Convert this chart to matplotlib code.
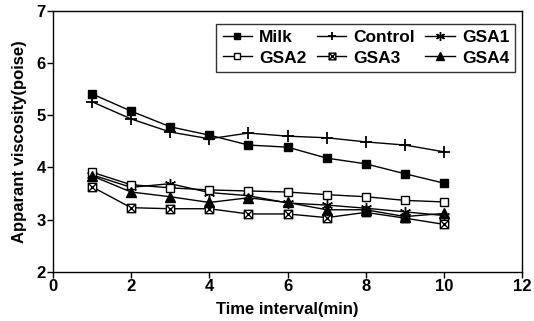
import numpy as np
import matplotlib.pyplot as plt
from matplotlib.path import Path

plt.rcParams['font.family'] = ['Liberation Sans', 'DejaVu Sans']

# --- data ---
time = [1, 2, 3, 4, 5, 6, 7, 8, 9, 10]
milk = [5.41, 5.08, 4.78, 4.62, 4.43, 4.39, 4.18, 4.07, 3.88, 3.70]
control = [5.26, 4.93, 4.68, 4.55, 4.66, 4.60, 4.57, 4.49, 4.43, 4.30]
gsa1 = [3.86, 3.62, 3.69, 3.52, 3.46, 3.32, 3.28, 3.22, 3.15, 3.08]
gsa2 = [3.91, 3.67, 3.61, 3.57, 3.55, 3.53, 3.48, 3.44, 3.37, 3.34]
gsa3 = [3.63, 3.23, 3.21, 3.21, 3.11, 3.11, 3.04, 3.14, 3.03, 2.91]
gsa4 = [3.84, 3.53, 3.44, 3.33, 3.42, 3.33, 3.19, 3.19, 3.06, 3.12]

# square with a cross inside (GSA3 marker)
sq_x = Path([(-1, -1), (1, -1), (1, 1), (-1, 1), (-1, -1),
             (-1, -1), (1, 1), (-1, 1), (1, -1)],
            [Path.MOVETO, Path.LINETO, Path.LINETO, Path.LINETO, Path.CLOSEPOLY,
             Path.MOVETO, Path.LINETO, Path.MOVETO, Path.LINETO])

fig = plt.figure(figsize=(5.34, 3.21), dpi=100)
ax = fig.add_axes([0.099, 0.153, 0.879, 0.813])

kw = dict(color='black', linewidth=1.0)
h_milk, = ax.plot(time, milk, marker='s', markersize=6, label='Milk', **kw)
h_ctrl, = ax.plot(time, control, marker='+', markersize=8, markeredgewidth=1.3, label='Control', **kw)
h_g1, = ax.plot(time, gsa1, marker=(6, 2, 0), markersize=8, markeredgewidth=1.0, label='GSA1', **kw)
h_g2, = ax.plot(time, gsa2, marker='s', markersize=6, markerfacecolor='white', label='GSA2', **kw)
h_g3, = ax.plot(time, gsa3, marker=sq_x, markersize=6, markerfacecolor='white', markeredgewidth=1.0, label='GSA3', **kw)
h_g4, = ax.plot(time, gsa4, marker='^', markersize=7, label='GSA4', **kw)

ax.set_xlim(0, 12)
ax.set_ylim(2, 7)
ax.set_xticks([0, 2, 4, 6, 8, 10, 12])
ax.set_yticks([2, 3, 4, 5, 6, 7])
ax.tick_params(direction='out', length=4, width=1, labelsize=12, pad=1)
for lab in ax.get_xticklabels() + ax.get_yticklabels():
    lab.set_fontweight('bold')
for s in ax.spines.values():
    s.set_linewidth(1.0)

ax.set_xlabel('Time interval(min)', fontsize=12, fontweight='bold', labelpad=6)
ax.set_ylabel('Apparant viscosity(poise)', fontsize=12, fontweight='bold', labelpad=7)

handles = [h_milk, h_g2, h_ctrl, h_g3, h_g1, h_g4]
leg = ax.legend(handles=handles, labels=[h.get_label() for h in handles],
                ncol=3, loc='upper right', bbox_to_anchor=(0.985, 0.95),
                borderaxespad=0,
                frameon=True, fancybox=False, edgecolor='black',
                prop={'size': 12.5, 'weight': 'bold'}, handlelength=1.7,
                columnspacing=0.6, handletextpad=0.4, labelspacing=0.3,
                borderpad=0.35, markerscale=0.8)
leg.get_frame().set_linewidth(1.0)

fig.savefig('out.png', dpi=100)
